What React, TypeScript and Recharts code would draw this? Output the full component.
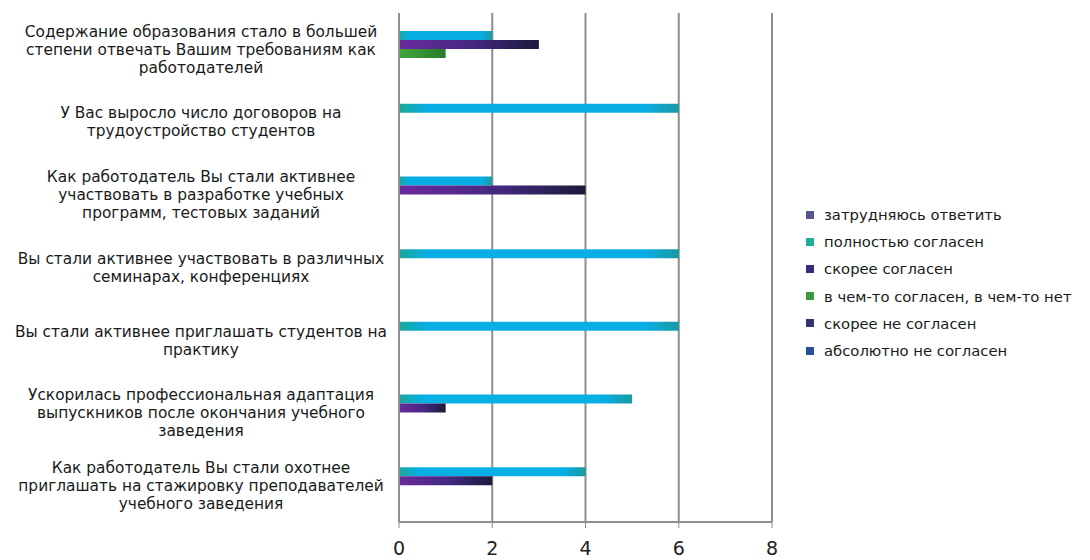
import React from "react";
import { BarChart, Bar, XAxis, YAxis, CartesianGrid } from "recharts";

const categories = [
  "Содержание образования стало в большей\nстепени отвечать Вашим требованиям как\nработодателей",
  "У Вас выросло число договоров на\nтрудоустройство студентов",
  "Как работодатель Вы стали активнее\nучаствовать в разработке учебных\nпрограмм, тестовых заданий",
  "Вы стали активнее участвовать в различных\nсеминарах, конференциях",
  "Вы стали активнее приглашать студентов на\nпрактику",
  "Ускорилась профессиональная адаптация\nвыпускников после окончания учебного\nзаведения",
  "Как работодатель Вы стали охотнее\nприглашать на стажировку преподавателей\nучебного заведения",
];

const seriesNames = [
  "затрудняюсь ответить",
  "полностью согласен",
  "скорее согласен",
  "в чем-то согласен, в чем-то нет",
  "скорее не согласен",
  "абсолютно не согласен",
];

const hardToSay = [0, 0, 0, 0, 0, 0, 0];
const fullyAgree = [2, 6, 2, 6, 6, 5, 4];
const ratherAgree = [3, 0, 4, 0, 0, 1, 2];
const partlyAgree = [1, 0, 0, 0, 0, 0, 0];
const ratherDisagree = [0, 0, 0, 0, 0, 0, 0];
const fullyDisagree = [0, 0, 0, 0, 0, 0, 0];

const xTicks = [0, 2, 4, 6, 8];

const seriesValues = [hardToSay, fullyAgree, ratherAgree, partlyAgree, ratherDisagree, fullyDisagree];
const seriesKeys = ["s0", "s1", "s2", "s3", "s4", "s5"];
const seriesFills = ["url(#g0)", "url(#g1)", "url(#g2)", "url(#g3)", "url(#g4)", "url(#g5)"];
const legendColors = ["#55558f", "#1fae9c", "#3b2a7c", "#3c9a3c", "#34346e", "#2a4a9a"];

const data = categories.map((name, i) => {
  const row: any = { name };
  seriesKeys.forEach((k, j) => {
    row[k] = seriesValues[j][i];
  });
  return row;
});

const FONT = "'DejaVu Sans', Verdana, sans-serif";

const YTick = (props: any) => {
  const { y, payload } = props;
  const lines = String(payload.value).split("\n");
  const lh = 18;
  const start = y - ((lines.length - 1) * lh) / 2;
  return (
    <g>
      {lines.map((l, i) => (
        <text
          key={i}
          x={193}
          y={start + i * lh}
          dy="0.35em"
          textAnchor="middle"
          fontFamily={FONT}
          fontSize={15.4}
          fill="#1a1a1a"
        >
          {l}
        </text>
      ))}
    </g>
  );
};

export default function App() {
  return (
    <div style={{ position: "relative", width: 1074, height: 552, background: "#ffffff" }}>
      <BarChart
        width={1074}
        height={552}
        data={data}
        layout="vertical"
        margin={{ top: 5, right: 310, bottom: 0, left: 0 }}
        barSize={9}
        barGap={0}
      >
        <defs>
          <linearGradient id="g0" x1="0" y1="0" x2="1" y2="0">
            <stop offset="0" stopColor="#6a6ab0" />
            <stop offset="1" stopColor="#3a3a7a" />
          </linearGradient>
          <linearGradient id="g1" x1="0" y1="0" x2="1" y2="0">
            <stop offset="0" stopColor="#1aa898" />
            <stop offset="0.1" stopColor="#08aee4" />
            <stop offset="0.88" stopColor="#08aee4" />
            <stop offset="1" stopColor="#1a9aa0" />
          </linearGradient>
          <linearGradient id="g2" x1="0" y1="0" x2="1" y2="0">
            <stop offset="0" stopColor="#6a2aa0" />
            <stop offset="0.55" stopColor="#43287e" />
            <stop offset="1" stopColor="#1a1a3a" />
          </linearGradient>
          <linearGradient id="g3" x1="0" y1="0" x2="1" y2="0">
            <stop offset="0" stopColor="#3fa83a" />
            <stop offset="1" stopColor="#2a7a2a" />
          </linearGradient>
          <linearGradient id="g4" x1="0" y1="0" x2="1" y2="0">
            <stop offset="0" stopColor="#44448a" />
            <stop offset="1" stopColor="#22224a" />
          </linearGradient>
          <linearGradient id="g5" x1="0" y1="0" x2="1" y2="0">
            <stop offset="0" stopColor="#3a5aaa" />
            <stop offset="1" stopColor="#1a2a6a" />
          </linearGradient>
        </defs>
        <CartesianGrid horizontal={false} stroke="#8e8e8e" strokeWidth={2} />
        <XAxis
          type="number"
          domain={[0, 8]}
          ticks={xTicks}
          height={38}
          axisLine={{ stroke: "#8e8e8e", strokeWidth: 2 }}
          tickLine={{ stroke: "#8e8e8e" }}
          tickSize={6}
          tickMargin={14}
          tick={{ fontFamily: FONT, fontSize: 19, fill: "#222" }}
        />
        <YAxis
          type="category"
          dataKey="name"
          width={391}
          axisLine={{ stroke: "#8e8e8e", strokeWidth: 2 }}
          tickLine={false}
          tick={<YTick />}
          interval={0}
        />
        {seriesKeys.map((k, j) => (
          <Bar key={k} dataKey={k} name={seriesNames[j]} fill={seriesFills[j]} isAnimationActive={false} />
        ))}
      </BarChart>
      <div style={{ position: "absolute", left: 798, top: 193, width: 290 }}>
        {seriesNames.map((n, j) => (
          <div
            key={n}
            style={{
              display: "flex",
              alignItems: "center",
              height: 27.2,
              fontFamily: FONT,
              fontSize: 14.8,
              color: "#1a1a1a",
              whiteSpace: "nowrap",
            }}
          >
            <span
              style={{
                display: "inline-block",
                width: 8,
                height: 8,
                background: legendColors[j],
                marginRight: 10,
                flexShrink: 0,
              }}
            />
            {n}
          </div>
        ))}
      </div>
    </div>
  );
}
